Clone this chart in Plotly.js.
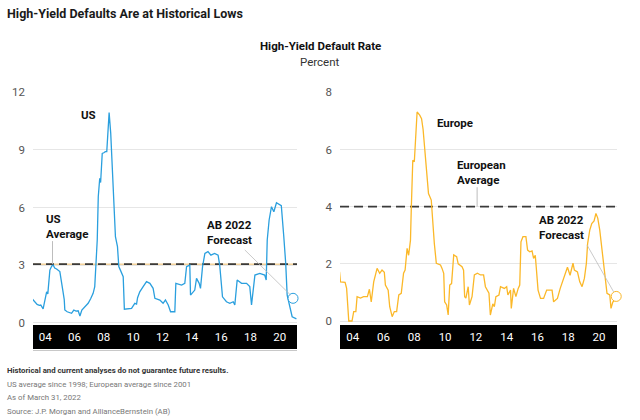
<!DOCTYPE html>
<html>
<head>
<meta charset="utf-8">
<script src="https://cdn.plot.ly/plotly-3.0.1.min.js"></script>
<style>html,body{margin:0;padding:0;background:#fff;}#chart{width:640px;height:420px;}</style>
</head>
<body>
<div id="chart"></div>
<script>
// ---- Data (x in chart year units, labels "04".."20") ----
const tickYears = [2004, 2006, 2008, 2010, 2012, 2014, 2016, 2018, 2020];
const tickLabels = ["04", "06", "08", "10", "12", "14", "16", "18", "20"];

const usYears = [2003.14,2003.3,2003.45,2003.6,2003.7,2003.86,2003.95,2004.1,2004.18,2004.32,2004.45,2004.55,2004.65,2004.78,2005.0,2005.1,2005.2,2005.3,2005.34,2005.5,2005.65,2005.8,2005.95,2006.1,2006.25,2006.37,2006.5,2006.7,2006.93,2007.1,2007.27,2007.38,2007.48,2007.55,2007.62,2007.72,2007.78,2007.89,2008.0,2008.1,2008.2,2008.28,2008.36,2008.47,2008.56,2008.7,2008.79,2008.93,2009.02,2009.15,2009.32,2009.4,2009.6,2009.89,2010.11,2010.23,2010.3,2010.45,2010.68,2010.91,2011.14,2011.25,2011.36,2011.48,2011.65,2011.82,2012.04,2012.2,2012.39,2012.55,2012.84,2012.91,2013.3,2013.52,2013.64,2013.86,2013.91,2014.2,2014.32,2014.5,2014.59,2014.73,2014.89,2015.1,2015.3,2015.55,2015.79,2015.9,2016.09,2016.36,2016.59,2016.82,2016.93,2017.09,2017.39,2017.73,2017.95,2018.07,2018.3,2018.63,2018.97,2019.07,2019.14,2019.27,2019.43,2019.59,2019.77,2019.95,2020.1,2020.27,2020.4,2020.5,2020.68,2020.84,2021.13];
const usRate = [1.22,1.05,0.95,0.9,0.92,0.72,1.0,1.61,1.5,2.74,2.95,3.0,2.85,2.8,2.66,2.05,1.7,1.2,0.66,0.57,0.55,0.49,0.66,0.6,0.62,0.35,0.66,0.8,1.01,1.25,1.53,1.88,3.09,4.31,6.56,7.52,7.3,8.82,8.85,8.91,8.91,9.86,10.94,9.86,8.12,6.22,4.48,3.96,2.92,2.7,2.4,0.7,0.72,0.75,1.01,0.97,1.3,1.61,1.88,2.14,2.05,1.9,1.79,1.27,1.22,1.18,1.01,1.18,0.92,0.57,0.57,2.05,1.96,2.05,2.92,3.0,1.44,1.7,2.31,2.05,1.79,2.92,3.61,3.7,3.52,3.61,3.52,3.0,1.35,1.09,1.01,1.09,0.92,2.22,2.05,2.05,1.88,0.92,2.48,2.57,2.48,2.22,4.31,5.35,6.04,5.78,6.25,6.15,6.1,4.48,3.09,1.44,0.92,0.31,0.2];

const euYears = [2003.14,2003.2,2003.5,2003.6,2003.74,2003.95,2004.06,2004.2,2004.28,2004.5,2004.7,2004.95,2005.08,2005.2,2005.36,2005.58,2005.75,2005.9,2006.05,2006.12,2006.3,2006.4,2006.56,2006.7,2006.85,2006.99,2007.15,2007.3,2007.4,2007.53,2007.63,2007.75,2007.8,2007.9,2008.0,2008.08,2008.18,2008.35,2008.47,2008.57,2008.65,2008.83,2008.92,2009.1,2009.2,2009.3,2009.43,2009.7,2009.8,2009.91,2009.97,2010.1,2010.2,2010.3,2010.42,2010.56,2010.75,2010.85,2011.1,2011.2,2011.27,2011.35,2011.5,2011.58,2011.75,2011.9,2012.1,2012.3,2012.5,2012.62,2012.85,2012.94,2013.1,2013.2,2013.3,2013.5,2013.6,2013.85,2014.0,2014.08,2014.25,2014.3,2014.45,2014.6,2014.75,2014.85,2014.93,2015.06,2015.25,2015.36,2015.5,2015.65,2015.75,2015.86,2015.92,2016.04,2016.2,2016.4,2016.6,2016.95,2017.05,2017.3,2017.48,2017.66,2017.8,2017.95,2018.12,2018.31,2018.4,2018.6,2018.75,2018.9,2019.05,2019.18,2019.26,2019.4,2019.53,2019.68,2019.8,2019.92,2020.05,2020.2,2020.3,2020.42,2020.52,2020.7,2020.78,2020.9,2020.99];
const euRate = [1.72,1.37,1.35,1.14,0.0,0.0,0.33,0.33,0.85,0.8,0.85,0.85,1.11,0.67,1.37,1.84,1.67,1.78,1.7,1.26,1.08,0.5,0.15,0.33,0.33,0.91,0.97,1.67,1.78,2.54,2.3,2.83,3.88,5.62,5.57,6.32,7.31,7.2,7.08,6.7,6.21,5.04,4.46,4.23,3.29,2.71,2.02,1.96,1.84,1.67,0.67,0.56,0.21,1.26,1.31,2.31,2.25,2.0,1.9,1.78,0.85,0.8,1.2,0.56,0.85,1.61,1.67,1.61,1.61,1.2,0.97,0.21,0.6,0.5,0.85,0.91,1.2,1.14,1.2,0.91,1.08,0.44,1.14,0.85,1.14,1.26,2.77,2.95,2.95,2.48,2.42,2.45,2.19,2.3,1.9,1.08,0.79,0.79,1.08,1.08,0.67,0.79,1.14,1.43,1.72,1.88,1.6,2.02,1.78,1.72,1.37,1.2,1.49,2.02,2.71,3.18,3.41,3.5,3.76,3.6,3.18,2.54,2.02,1.43,0.97,0.91,0.44,0.67,0.7];

const usAverage = 3.05;
const euAverage = 4.0;
const usForecastYear = [2020.9];
const usForecast = [1.27];
const euForecastYear = [2021.12];
const euForecast = [0.86];

const usTicks = [0, 3, 6, 9, 12];
const euTicks = [0, 2, 4, 6, 8];

// ---- Style ----
const US_COLOR = '#2a9fde';
const EU_COLOR = '#fbb829';
const xRange = [2003.17, 2021.17];
const FONT = 'Roboto, "Liberation Sans", sans-serif';
const px = x => x / 640;
const py = y => 1 - y / 420;

const traces = [
  {x: xRange, y: [usAverage, usAverage], xaxis: 'x', yaxis: 'y', mode: 'lines',
   line: {color: '#f3d29a', width: 1.5}, hoverinfo: 'skip'},
  {x: xRange, y: [usAverage, usAverage], xaxis: 'x', yaxis: 'y', mode: 'lines',
   line: {color: '#3a3a3a', width: 1.6, dash: '8px,5px'}, hoverinfo: 'skip'},
  {x: usYears, y: usRate, xaxis: 'x', yaxis: 'y', mode: 'lines',
   line: {color: US_COLOR, width: 1.3}},
  {x: usForecastYear, y: usForecast, xaxis: 'x', yaxis: 'y', mode: 'markers', cliponaxis: false,
   marker: {size: 10, color: '#fff', line: {color: US_COLOR, width: 1}}},
  {x: xRange, y: [euAverage, euAverage], xaxis: 'x2', yaxis: 'y2', mode: 'lines',
   line: {color: '#3a3a3a', width: 1.6, dash: '9px,5px'}, hoverinfo: 'skip'},
  {x: euYears, y: euRate, xaxis: 'x2', yaxis: 'y2', mode: 'lines',
   line: {color: EU_COLOR, width: 1.3}},
  {x: euForecastYear, y: euForecast, xaxis: 'x2', yaxis: 'y2', mode: 'markers', cliponaxis: false,
   marker: {size: 10, color: '#fff', line: {color: EU_COLOR, width: 1}}}
];

const yDomain = [py(325), py(92.3)];
const xCommon = {
  range: xRange, tickvals: tickYears, ticktext: tickLabels, showgrid: false, zeroline: false,
  showline: false, ticks: '', tickfont: {family: FONT, size: 11.5, color: '#ffffff'},
  ticklabelstandoff: 3, fixedrange: true
};
const yCommon = {
  showgrid: true, gridcolor: '#e6e6e6', gridwidth: 1, zeroline: false, showline: false, ticks: '',
  tickfont: {family: FONT, size: 11.5, color: '#555555'}, ticklabelstandoff: 7, fixedrange: true
};

const ann = (text, x, y, opts) => Object.assign({
  text: text, xref: 'paper', yref: 'paper', x: px(x), y: py(y), showarrow: false,
  xanchor: 'left', yanchor: 'middle', align: 'left',
  font: {family: FONT, size: 11.5, color: '#111', weight: 700}
}, opts || {});

const layout = {
  width: 640, height: 420,
  margin: {l: 0, r: 0, t: 0, b: 0},
  paper_bgcolor: '#fff', plot_bgcolor: 'rgba(0,0,0,0)',
  showlegend: false,
  xaxis: Object.assign({}, xCommon, {domain: [px(33), px(297)], anchor: 'y'}),
  yaxis: Object.assign({}, yCommon, {domain: yDomain, range: [-0.12, 12], tickvals: usTicks, anchor: 'x'}),
  xaxis2: Object.assign({}, xCommon, {domain: [px(340), px(617)], anchor: 'y2'}),
  yaxis2: Object.assign({}, yCommon, {domain: yDomain, range: [-0.14, 8], tickvals: euTicks, anchor: 'x2'}),
  shapes: [
    {type: 'rect', layer: 'below', xref: 'x domain', yref: 'paper', x0: 0, x1: 1, y0: py(349), y1: py(325),
     fillcolor: '#000', line: {width: 0}},
    {type: 'rect', layer: 'below', xref: 'x2 domain', yref: 'paper', x0: 0, x1: 1, y0: py(349), y1: py(325),
     fillcolor: '#000', line: {width: 0}},
    {type: 'line', xref: 'x domain', yref: 'paper', x0: 0, x1: 1, y0: py(350.5), y1: py(350.5),
     line: {color: '#c8c8c8', width: 1}},
    // leader lines
    {type: 'line', xref: 'x', yref: 'y', x0: 2004.5, x1: 2004.5, y0: 4.25, y1: usAverage,
     line: {color: '#bdbdbd', width: 1}},
    {type: 'line', xref: 'x', yref: 'y', x0: 2017.61, x1: 2020.72, y0: 3.79, y1: 1.45,
     line: {color: '#bdbdbd', width: 0.8}},
    {type: 'line', xref: 'x2', yref: 'y2', x0: 2012.08, x1: 2012.08, y0: 4.68, y1: euAverage,
     line: {color: '#bdbdbd', width: 1}},
    {type: 'line', xref: 'x2', yref: 'y2', x0: 2019.22, x1: 2020.95, y0: 2.66, y1: 1.02,
     line: {color: '#bdbdbd', width: 0.8}}
  ],
  annotations: [
    ann('High-Yield Defaults Are at Historical Lows', 5, 14,
        {font: {family: FONT, size: 12.5, color: '#1a1a1a', weight: 700}}),
    ann('High-Yield Default Rate', 320, 46, {xanchor: 'center', align: 'center',
        font: {family: FONT, size: 11.5, color: '#111', weight: 700}}),
    ann('Percent', 320, 62, {xanchor: 'center', align: 'center',
        font: {family: FONT, size: 11.5, color: '#333', weight: 400}}),
    ann('US', 79, 115),
    ann('US<br>Average', 44, 226),
    ann('AB 2022<br>Forecast', 205, 232),
    ann('Europe', 435, 123),
    ann('European<br>Average', 455, 172),
    ann('AB 2022<br>Forecast', 537, 228),
    ann('Historical and current analyses do not guarantee future results.', 5, 370,
        {font: {family: FONT, size: 7.8, color: '#333', weight: 700}}),
    ann('US average since 1998; European average since 2001', 5, 384,
        {font: {family: FONT, size: 7.8, color: '#777', weight: 400}}),
    ann('As of March 31, 2022', 5, 397.5,
        {font: {family: FONT, size: 7.8, color: '#777', weight: 400}}),
    ann('Source: J.P. Morgan and AllianceBernstein (AB)', 5, 411,
        {font: {family: FONT, size: 7.8, color: '#777', weight: 400}})
  ]
};

Plotly.newPlot('chart', traces, layout, {displayModeBar: false, staticPlot: true});
</script>
</body>
</html>
